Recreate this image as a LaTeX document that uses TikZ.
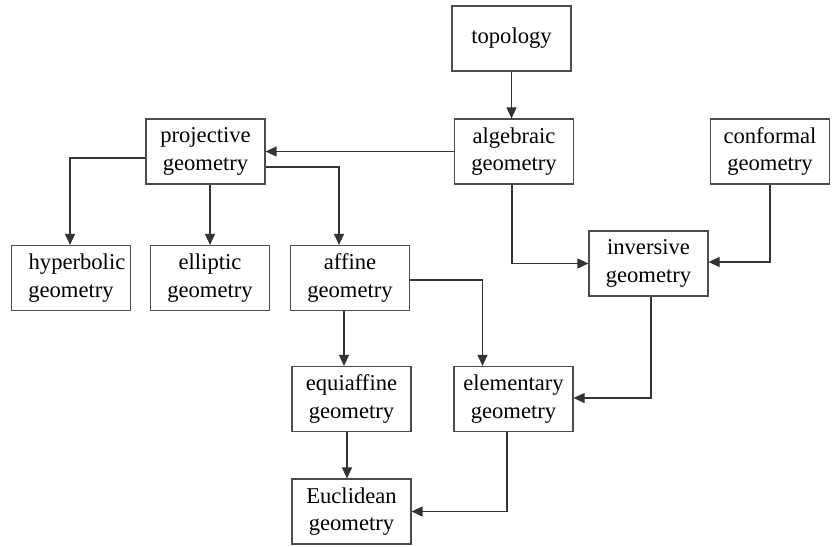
\documentclass[tikz,border=0pt]{standalone}
\usepackage{fontspec}
\setmainfont{Liberation Serif}
\usepackage{tikz}
\usetikzlibrary{shapes,arrows.meta,backgrounds}

\tikzset{geo/.style={draw=black!70, line width=.6pt, minimum width=59.5pt, minimum height=32.5pt, align=center, inner sep=0pt, font=\fontsize{11.3}{13.6}\selectfont},
  arr/.style={draw=black!80, line width=.55pt, -{Triangle[length=5.5pt,width=5pt]}}}

\begin{document}
\begin{tikzpicture}[x=.5pt, y=-.5pt]
\useasboundingbox (0,0) rectangle (833,546);
\node[geo] (topo) at (511.5,38.5) {topology};
\node[geo] (alg) at (514,151.5) {algebraic\\geometry};
\node[geo] (proj) at (205.5,151.5) {projective\\geometry};
\node[geo] (conf) at (770,151.5) {conformal\\geometry};
\node[geo] (hyp) at (71,278) {\hspace*{6pt}hyperbolic\\geometry};
\node[geo] (ell) at (210,278) {elliptic\\geometry};
\node[geo] (aff) at (350,278) {affine\\geometry};
\node[geo] (inv) at (648.5,263.5) {inversive\\geometry};
\node[geo] (equi) at (351.5,399) {equiaffine\\geometry};
\node[geo] (elem) at (513.5,399) {elementary\\geometry};
\node[geo] (eucl) at (351.5,511.5) {Euclidean\\geometry};
\draw[arr] (topo.south) -- (topo.south |- alg.north);
\draw[arr] (alg.west) -- (alg.west -| proj.east);
\draw[arr] ([shift={(0,6.5)}]proj.west) -| ([shift={(-1,0)}]hyp.north);
\draw[arr] (proj.south -| ell.north) -- (ell.north);
\draw[arr] ([shift={(0,15.5)}]proj.east) -| ([shift={(-11,0)}]aff.north);
\draw[arr] ([shift={(-2,0)}]alg.south) |- (inv.west);
\draw[arr] (conf.south) |- ([shift={(0,-1.5)}]inv.east);
\draw[arr] ([shift={(0,2)}]aff.east) -| ([shift={(-31,0)}]elem.north);
\draw[arr] ([shift={(-6,0)}]aff.south) -- ([shift={(-7.5,0)}]equi.north);
\draw[arr] ([shift={(2.5,0)}]inv.south) |- ([shift={(0,-1)}]elem.east);
\draw[arr] ([shift={(-4.5,0)}]equi.south) -- ([shift={(-4.5,0)}]eucl.north);
\draw[arr] ([shift={(-6.5,0)}]elem.south) |- (eucl.east);
\end{tikzpicture}
\end{document}
